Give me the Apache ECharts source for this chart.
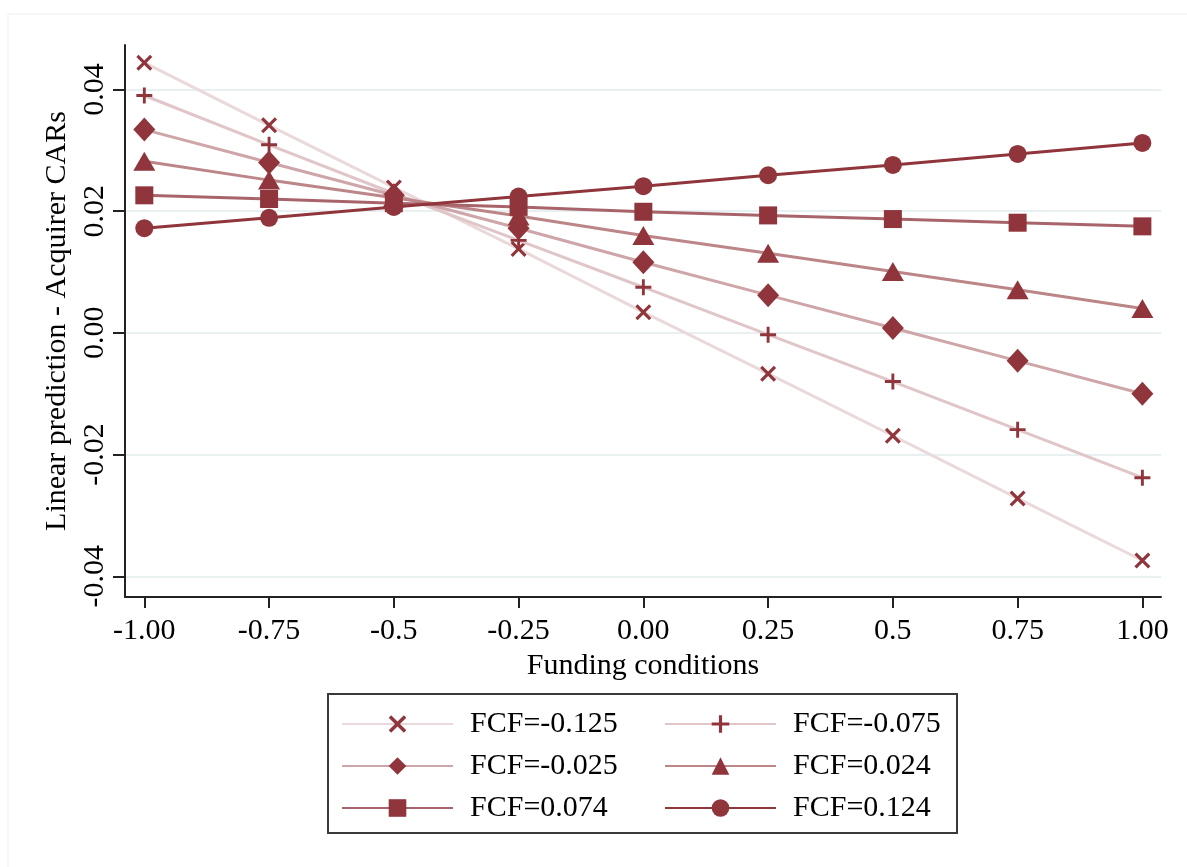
<!DOCTYPE html>
<html>
<head>
<meta charset="utf-8">
<script src="https://cdn.jsdelivr.net/npm/echarts@6/dist/echarts.min.js"></script>
<style>
  html, body { margin: 0; padding: 0; background: #fff; }
  #chart { width: 1187px; height: 867px; }
</style>
</head>
<body>
<div id="chart"></div>
<script>
// x positions (funding conditions) and the tick labels as printed
var xValues = [-1, -0.75, -0.5, -0.25, 0, 0.25, 0.5, 0.75, 1];
var xTickLabels = ['-1.00', '-0.75', '-0.5', '-0.25', '0.00', '0.25', '0.5', '0.75', '1.00'];
var yTickValues = [-0.04, -0.02, 0, 0.02, 0.04];
var yTickLabels = ['-0.04', '-0.02', '0.00', '0.02', '0.04'];

var seriesNames = ['FCF=-0.125', 'FCF=-0.075', 'FCF=-0.025', 'FCF=0.024', 'FCF=0.074', 'FCF=0.124'];

// linear predictions
var fcfM125 = [0.0444, 0.0341, 0.0239, 0.0138, 0.0034, -0.0067, -0.0169, -0.0272, -0.0374];
var fcfM075 = [0.0390, 0.0309, 0.0229, 0.0152, 0.0075, -0.0003, -0.0080, -0.0159, -0.0238];
var fcfM025 = [0.0334, 0.0280, 0.0226, 0.0172, 0.0116, 0.0062, 0.0008, -0.0046, -0.0100];
var fcf024 = [0.0282, 0.0251, 0.0222, 0.0192, 0.0160, 0.0131, 0.0101, 0.0071, 0.0040];
var fcf074 = [0.0226, 0.0220, 0.0213, 0.0207, 0.0199, 0.0193, 0.0187, 0.0181, 0.0175];
var fcf124 = [0.0172, 0.0189, 0.0207, 0.0224, 0.0241, 0.0259, 0.0276, 0.0294, 0.0312];

var allValues = [fcfM125, fcfM075, fcfM025, fcf024, fcf074, fcf124];

var markColor = '#90353b';
var lineColors = ['#ead9da', '#e0c6c8', '#cea5a8', '#bc8689', '#a8646a', '#90353b'];
var xPath = 'path://M1.4,0 L5,3.6 L8.6,0 L10,1.4 L6.4,5 L10,8.6 L8.6,10 L5,6.4 L1.4,10 L0,8.6 L3.6,5 L0,1.4 Z';
var plusPath = 'path://M4.1,0 H5.9 V4.1 H10 V5.9 H5.9 V10 H4.1 V5.9 H0 V4.1 H4.1 Z';
var symbols = [xPath, plusPath, 'diamond', 'triangle', 'rect', 'circle'];
var symbolSizes = [16, 16, [22, 24], [22, 19], 18, 18];

var font = '"Liberation Serif", "Times New Roman", serif';
var fs = 30;

var chart = echarts.init(document.getElementById('chart'));

var series = [];
for (var i = 0; i < seriesNames.length; i++) {
    var pts = [];
    for (var j = 0; j < xValues.length; j++) {
        pts.push([xValues[j], allValues[i][j]]);
    }
    series.push({
        name: seriesNames[i],
        type: 'line',
        data: pts,
        symbol: symbols[i],
        symbolSize: symbolSizes[i],
        showAllSymbol: true,
        itemStyle: {color: markColor},
        lineStyle: {color: lineColors[i], width: 3},
        emphasis: {disabled: true},
        z: 2 + i
    });
}

var legendText = {
    fontFamily: font,
    fontSize: fs,
    color: '#000',
    padding: [0, 0, 0, 12]
};

var option = {
    backgroundColor: '#fff',
    animation: false,
    grid: {
        left: 125,
        right: 26,
        top: 45,
        bottom: 270
    },
    xAxis: {
        type: 'value',
        min: -1.0387,
        max: 1.0373,
        name: 'Funding conditions',
        nameLocation: 'middle',
        nameGap: 48,
        nameTextStyle: {fontFamily: font, fontSize: fs, color: '#000'},
        axisLine: {show: true, onZero: false, lineStyle: {color: '#222', width: 2}},
        axisTick: {show: true, length: 11, lineStyle: {color: '#222', width: 2}, customValues: xValues},
        axisLabel: {
            fontFamily: font,
            fontSize: fs,
            color: '#000',
            margin: 19,
            customValues: xValues,
            formatter: function (v) {
                var k = xValues.indexOf(v);
                return k >= 0 ? xTickLabels[k] : '';
            }
        },
        splitLine: {show: false}
    },
    yAxis: {
        type: 'value',
        min: -0.0434,
        max: 0.0473,
        name: 'Linear prediction - Acquirer CARs',
        nameLocation: 'middle',
        nameRotate: 90,
        nameGap: 45,
        nameTextStyle: {fontFamily: font, fontSize: fs, color: '#000'},
        axisLine: {show: true, onZero: false, lineStyle: {color: '#222', width: 2}},
        axisTick: {show: true, length: 12, lineStyle: {color: '#222', width: 2}, customValues: yTickValues},
        axisLabel: {
            fontFamily: font,
            fontSize: fs,
            color: '#000',
            rotate: 90,
            margin: 15,
            customValues: yTickValues,
            formatter: function (v) {
                for (var k = 0; k < yTickValues.length; k++) {
                    if (Math.abs(yTickValues[k] - v) < 1e-9) return yTickLabels[k];
                }
                return '';
            }
        },
        splitLine: {show: true, lineStyle: {color: '#e8f0f2', width: 2}}
    },
    legend: [
        {
            orient: 'vertical',
            left: 341,
            top: 709,
            padding: 0,
            itemWidth: 111,
            itemHeight: 22,
            itemGap: 12,
            textStyle: legendText,
            data: [seriesNames[0], seriesNames[2], seriesNames[4]]
        },
        {
            orient: 'vertical',
            left: 664,
            top: 709,
            padding: 0,
            itemWidth: 111,
            itemHeight: 22,
            itemGap: 12,
            textStyle: legendText,
            data: [seriesNames[1], seriesNames[3], seriesNames[5]]
        }
    ],
    graphic: [
        {
            type: 'rect',
            shape: {x: 8, y: 14, width: 1185, height: 870},
            style: {fill: 'none', stroke: '#eeeeee', lineWidth: 1},
            silent: true
        },
        {
            type: 'rect',
            shape: {x: 328, y: 694, width: 629, height: 139},
            style: {fill: 'none', stroke: '#3a3a3a', lineWidth: 2},
            silent: true
        }
    ],
    series: series
};

chart.setOption(option);
</script>
</body>
</html>
